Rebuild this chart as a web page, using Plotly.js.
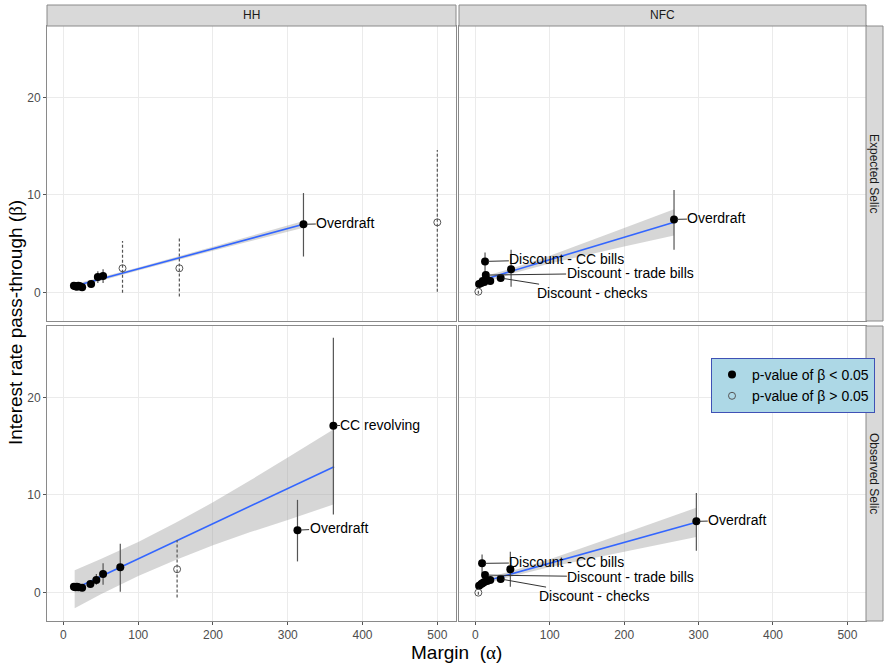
<!DOCTYPE html>
<html><head><meta charset="utf-8">
<script src="https://cdn.plot.ly/plotly-3.0.1.min.js"></script>
<style>html,body{margin:0;padding:0;background:#fff}#chart{width:884px;height:666px}</style>
</head><body><div id="chart"></div>
<script>
// ---------- DATA ----------
const colLabels = ['HH', 'NFC'];
const rowLabels = ['Expected Selic', 'Observed Selic'];
const xTicks = [0, 100, 200, 300, 400, 500];
const yTicks = [0, 10, 20];
const legendSig = 'p-value of β < 0.05';
const legendNs = 'p-value of β > 0.05';

// HH – Expected Selic
const hhExpSigX  = [14, 16, 18, 20, 22, 25, 37, 46, 53, 321];
const hhExpSigY  = [0.7, 0.65, 0.6, 0.7, 0.65, 0.55, 0.9, 1.6, 1.7, 7.0];
const hhExpSigLo = [0.55, 0.5, 0.45, 0.55, 0.5, 0.4, 0.7, 1.0, 1.0, 3.7];
const hhExpSigHi = [0.85, 0.8, 0.75, 0.85, 0.8, 0.7, 1.1, 2.2, 2.4, 10.2];
const hhExpNsX  = [79, 155, 500];
const hhExpNsY  = [2.5, 2.5, 7.2];
const hhExpNsLo = [0.0, -0.4, 0.1];
const hhExpNsHi = [5.3, 5.6, 14.6];
const hhExpFitX  = [14, 100, 200, 321];
const hhExpFitY  = [0.65, 2.43, 4.5, 7.0];
const hhExpFitLo = [0.45, 2.28, 4.3, 6.65];
const hhExpFitHi = [0.85, 2.58, 4.7, 7.35];

// NFC – Expected Selic
const nfcExpSigX  = [5, 8, 10, 12, 13, 14, 16, 20, 34, 48, 267];
const nfcExpSigY  = [0.9, 1.0, 1.2, 1.1, 3.2, 1.8, 1.3, 1.2, 1.5, 2.4, 7.5];
const nfcExpSigLo = [0.7, 0.8, 1.0, 0.9, 2.0, 1.5, 1.1, 1.0, 1.3, 0.6, 4.4];
const nfcExpSigHi = [1.1, 1.2, 1.4, 1.3, 4.1, 2.1, 1.5, 1.4, 1.7, 4.4, 10.5];
const nfcExpNsX  = [4];
const nfcExpNsY  = [0.1];
const nfcExpNsLo = [-0.1];
const nfcExpNsHi = [0.3];
const nfcExpFitX  = [5, 50, 100, 150, 200, 267];
const nfcExpFitY  = [1.2, 2.23, 3.38, 4.52, 5.67, 7.2];
const nfcExpFitLo = [0.88, 1.95, 2.98, 3.87, 4.72, 5.85];
const nfcExpFitHi = [1.52, 2.51, 3.78, 5.17, 6.62, 8.55];

// HH – Observed Selic
const hhObsSigX  = [14, 16, 18, 20, 25, 36, 44, 53, 76, 313, 361];
const hhObsSigY  = [0.6, 0.55, 0.6, 0.55, 0.5, 0.9, 1.3, 1.9, 2.6, 6.4, 17.1];
const hhObsSigLo = [0.45, 0.4, 0.45, 0.4, 0.35, 0.7, 0.8, 0.8, 0.1, 3.2, 8.0];
const hhObsSigHi = [0.75, 0.7, 0.75, 0.7, 0.65, 1.1, 1.9, 3.0, 5.0, 9.5, 26.1];
const hhObsNsX  = [152];
const hhObsNsY  = [2.4];
const hhObsNsLo = [-0.5];
const hhObsNsHi = [5.4];
const hhObsFitX  = [15, 50, 100, 150, 200, 250, 300, 362];
const hhObsFitY  = [0.4, 1.66, 3.46, 5.26, 7.06, 8.86, 10.66, 12.9];
const hhObsFitLo = [-1.6, -0.15, 1.7, 3.35, 4.85, 6.2, 7.45, 9.05];
const hhObsFitHi = [2.3, 3.45, 5.2, 7.15, 9.25, 11.5, 13.85, 16.75];

// NFC – Observed Selic
const nfcObsSigX  = [5, 8, 9, 10, 12, 13, 16, 20, 34, 47, 297];
const nfcObsSigY  = [0.7, 0.9, 3.0, 1.0, 1.1, 1.8, 1.2, 1.3, 1.4, 2.4, 7.3];
const nfcObsSigLo = [0.5, 0.7, 2.0, 0.8, 0.9, 1.5, 1.0, 1.1, 1.2, 0.6, 4.3];
const nfcObsSigHi = [0.9, 1.1, 3.9, 1.2, 1.3, 2.1, 1.4, 1.5, 1.6, 4.2, 10.2];
const nfcObsNsX  = [4];
const nfcObsNsY  = [0.0];
const nfcObsNsLo = [-0.2];
const nfcObsNsHi = [0.2];
const nfcObsFitX  = [5, 50, 100, 150, 200, 297];
const nfcObsFitY  = [1.0, 1.96, 3.02, 4.08, 5.14, 7.2];
const nfcObsFitLo = [0.7, 1.68, 2.62, 3.43, 4.19, 5.7];
const nfcObsFitHi = [1.3, 2.24, 3.42, 4.73, 6.09, 8.7];

// Point labels: index into the significant-point arrays
const hhExpLabelText = ['Overdraft'];
const hhExpLabelIdx  = [9];
const nfcExpLabelText = ['Discount - CC bills', 'Discount - trade bills', 'Discount - checks', 'Overdraft'];
const nfcExpLabelIdx  = [4, 5, 8, 10];
const hhObsLabelText = ['CC revolving', 'Overdraft'];
const hhObsLabelIdx  = [10, 9];
const nfcObsLabelText = ['Discount - CC bills', 'Discount - trade bills', 'Discount - checks', 'Overdraft'];
const nfcObsLabelIdx  = [2, 5, 8, 10];

// ---------- STYLE / LAYOUT ----------
const FONT = 'Liberation Sans, Arial, Helvetica, sans-serif';
// label text positions (data units), same order as the label arrays
const labelPos = {
  hhExp: [[377, 7.1]],
  nfcExp: [[123, 3.4], [208, 2.0], [157, 0.0], [324, 7.6]],
  hhObs: [[424, 17.2], [368, 6.6]],
  nfcObs: [[123, 3.1], [209, 1.6], [159, -0.3], [352, 7.4]]
};

const panels = [
  {key: 'hhExp', xa: 'x', ya: 'y', sig: [hhExpSigX, hhExpSigY, hhExpSigLo, hhExpSigHi], ns: [hhExpNsX, hhExpNsY, hhExpNsLo, hhExpNsHi],
   fit: [hhExpFitX, hhExpFitY, hhExpFitLo, hhExpFitHi], lt: hhExpLabelText, li: hhExpLabelIdx, legend: true},
  {key: 'nfcExp', xa: 'x2', ya: 'y2', sig: [nfcExpSigX, nfcExpSigY, nfcExpSigLo, nfcExpSigHi], ns: [nfcExpNsX, nfcExpNsY, nfcExpNsLo, nfcExpNsHi],
   fit: [nfcExpFitX, nfcExpFitY, nfcExpFitLo, nfcExpFitHi], lt: nfcExpLabelText, li: nfcExpLabelIdx},
  {key: 'hhObs', xa: 'x3', ya: 'y3', sig: [hhObsSigX, hhObsSigY, hhObsSigLo, hhObsSigHi], ns: [hhObsNsX, hhObsNsY, hhObsNsLo, hhObsNsHi],
   fit: [hhObsFitX, hhObsFitY, hhObsFitLo, hhObsFitHi], lt: hhObsLabelText, li: hhObsLabelIdx},
  {key: 'nfcObs', xa: 'x4', ya: 'y4', sig: [nfcObsSigX, nfcObsSigY, nfcObsSigLo, nfcObsSigHi], ns: [nfcObsNsX, nfcObsNsY, nfcObsNsLo, nfcObsNsHi],
   fit: [nfcObsFitX, nfcObsFitY, nfcObsFitLo, nfcObsFitHi], lt: nfcObsLabelText, li: nfcObsLabelIdx}
];

function segs(xs, lo, hi) {
  const X = [], Y = [];
  xs.forEach((x, i) => { X.push(x, x, null); Y.push(lo[i], hi[i], null); });
  return {X, Y};
}

const traces = [];
const annotations = [];
panels.forEach(p => {
  const [fx, fy, flo, fhi] = p.fit;
  traces.push({type: 'scatter', mode: 'lines', x: fx, y: flo, xaxis: p.xa, yaxis: p.ya,
    line: {width: 0}, showlegend: false, hoverinfo: 'skip'});
  traces.push({type: 'scatter', mode: 'lines', x: fx, y: fhi, xaxis: p.xa, yaxis: p.ya,
    line: {width: 0}, fill: 'tonexty', fillcolor: 'rgba(153,153,153,0.4)', showlegend: false, hoverinfo: 'skip'});
  traces.push({type: 'scatter', mode: 'lines', x: fx, y: fy, xaxis: p.xa, yaxis: p.ya,
    line: {color: '#3366FF', width: 1.6}, showlegend: false});
  const [sx, sy, slo, shi] = p.sig;
  const [nx, ny, nlo, nhi] = p.ns;
  const se = segs(sx, slo, shi);
  traces.push({type: 'scatter', mode: 'lines', x: se.X, y: se.Y, xaxis: p.xa, yaxis: p.ya,
    line: {color: '#555555', width: 1.2}, showlegend: false, connectgaps: false});
  const ne = segs(nx, nlo, nhi);
  traces.push({type: 'scatter', mode: 'lines', x: ne.X, y: ne.Y, xaxis: p.xa, yaxis: p.ya,
    line: {color: '#555555', width: 1.2, dash: '3px,2px'}, showlegend: false, connectgaps: false});
  traces.push({type: 'scatter', mode: 'markers', x: sx, y: sy, xaxis: p.xa, yaxis: p.ya,
    marker: {color: '#000000', size: 8, symbol: 'circle'}, name: legendSig, legendgroup: 'sig', showlegend: !!p.legend});
  traces.push({type: 'scatter', mode: 'markers', x: nx, y: ny, xaxis: p.xa, yaxis: p.ya,
    marker: {color: '#555555', size: 7, symbol: 'circle-open', line: {width: 1, color: '#555555'}},
    name: legendNs, legendgroup: 'ns', showlegend: !!p.legend});
  p.lt.forEach((t, k) => {
    const i = p.li[k];
    const pos = labelPos[p.key][k];
    annotations.push({xref: p.xa, yref: p.ya, x: sx[i], y: sy[i], axref: p.xa, ayref: p.ya, ax: pos[0], ay: pos[1],
      text: t, showarrow: true, arrowhead: 0, arrowwidth: 1, arrowcolor: '#333333', standoff: 3,
      font: {family: FONT, size: 14, color: '#000000'}, borderpad: 0});
  });
});

const L = [47/884, 456/884], R = [459/884, 866/884];
const T = [1 - 321/666, 1 - 26/666], B = [1 - 621/666, 1 - 326/666];

function xax(domain, anchor, labels) {
  return {domain, anchor, range: [-22, 525], tickvals: xTicks, ticktext: xTicks.map(String),
    showgrid: true, gridcolor: '#EBEBEB', gridwidth: 1, zeroline: false,
    showline: true, mirror: true, linecolor: '#8a8a8a', linewidth: 1,
    ticks: labels ? 'outside' : '', ticklen: 3, tickcolor: '#555555', showticklabels: labels,
    tickfont: {family: FONT, size: 12, color: '#4D4D4D'}, fixedrange: true};
}
function yax(domain, anchor, labels) {
  return {domain, anchor, range: [-2.9, 27.3], tickvals: yTicks, ticktext: yTicks.map(String),
    showgrid: true, gridcolor: '#EBEBEB', gridwidth: 1, zeroline: false,
    showline: true, mirror: true, linecolor: '#8a8a8a', linewidth: 1,
    ticks: labels ? 'outside' : '', ticklen: 3, tickcolor: '#555555', showticklabels: labels,
    tickfont: {family: FONT, size: 12, color: '#4D4D4D'}, fixedrange: true};
}

const stripFill = '#D9D9D9', stripLine = '#8a8a8a';
const shapes = [
  {type: 'rect', xref: 'paper', yref: 'paper', x0: L[0], x1: L[1], y0: T[1], y1: 1 - 5/666, fillcolor: stripFill, line: {color: stripLine, width: 1}},
  {type: 'rect', xref: 'paper', yref: 'paper', x0: R[0], x1: R[1], y0: T[1], y1: 1 - 5/666, fillcolor: stripFill, line: {color: stripLine, width: 1}},
  {type: 'rect', xref: 'paper', yref: 'paper', x0: R[1], x1: 883/884, y0: T[0], y1: T[1], fillcolor: stripFill, line: {color: stripLine, width: 1}},
  {type: 'rect', xref: 'paper', yref: 'paper', x0: R[1], x1: 883/884, y0: B[0], y1: B[1], fillcolor: stripFill, line: {color: stripLine, width: 1}}
];
const stripFont = {family: FONT, size: 12, color: '#1A1A1A'};
annotations.push(
  {xref: 'paper', yref: 'paper', x: (L[0] + L[1]) / 2, y: (T[1] + 1 - 5/666) / 2, text: colLabels[0], showarrow: false, font: stripFont, xanchor: 'center', yanchor: 'middle'},
  {xref: 'paper', yref: 'paper', x: (R[0] + R[1]) / 2, y: (T[1] + 1 - 5/666) / 2, text: colLabels[1], showarrow: false, font: stripFont, xanchor: 'center', yanchor: 'middle'},
  {xref: 'paper', yref: 'paper', x: (R[1] + 883/884) / 2, y: (T[0] + T[1]) / 2, text: rowLabels[0], showarrow: false, font: stripFont, textangle: 90, xanchor: 'center', yanchor: 'middle'},
  {xref: 'paper', yref: 'paper', x: (R[1] + 883/884) / 2, y: (B[0] + B[1]) / 2, text: rowLabels[1], showarrow: false, font: stripFont, textangle: 90, xanchor: 'center', yanchor: 'middle'},
  {xref: 'paper', yref: 'paper', x: 15/884, y: 1 - 323/666, text: 'Interest rate pass-through (<span style="font-family:Liberation Serif">β</span>)',
   showarrow: false, textangle: -90, font: {family: FONT, size: 19, color: '#000000'}, xanchor: 'center', yanchor: 'middle'},
  {xref: 'paper', yref: 'paper', x: 456/884, y: 1 - 652/666, text: 'Margin  (<span style="font-family:Liberation Serif">α</span>)',
   showarrow: false, font: {family: FONT, size: 19, color: '#000000'}, xanchor: 'center', yanchor: 'middle'}
);

const layout = {
  width: 884, height: 666, autosize: false,
  margin: {l: 0, r: 0, t: 0, b: 0},
  paper_bgcolor: '#FFFFFF', plot_bgcolor: '#FFFFFF',
  font: {family: FONT},
  xaxis: xax(L, 'y', false), yaxis: yax(T, 'x', true),
  xaxis2: xax(R, 'y2', false), yaxis2: yax(T, 'x2', false),
  xaxis3: xax(L, 'y3', true), yaxis3: yax(B, 'x3', true),
  xaxis4: xax(R, 'y4', true), yaxis4: yax(B, 'x4', false),
  showlegend: true,
  legend: {x: 711/884, y: 1 - 358/666, xanchor: 'left', yanchor: 'top', bgcolor: '#ADD8E6', bordercolor: '#3F51B5', borderwidth: 1,
    font: {family: FONT, size: 14, color: '#000000'}, itemwidth: 30, tracegroupgap: 0, traceorder: 'normal'},
  shapes, annotations
};

Plotly.newPlot('chart', traces, layout, {displayModeBar: false, staticPlot: true});
</script></body></html>
